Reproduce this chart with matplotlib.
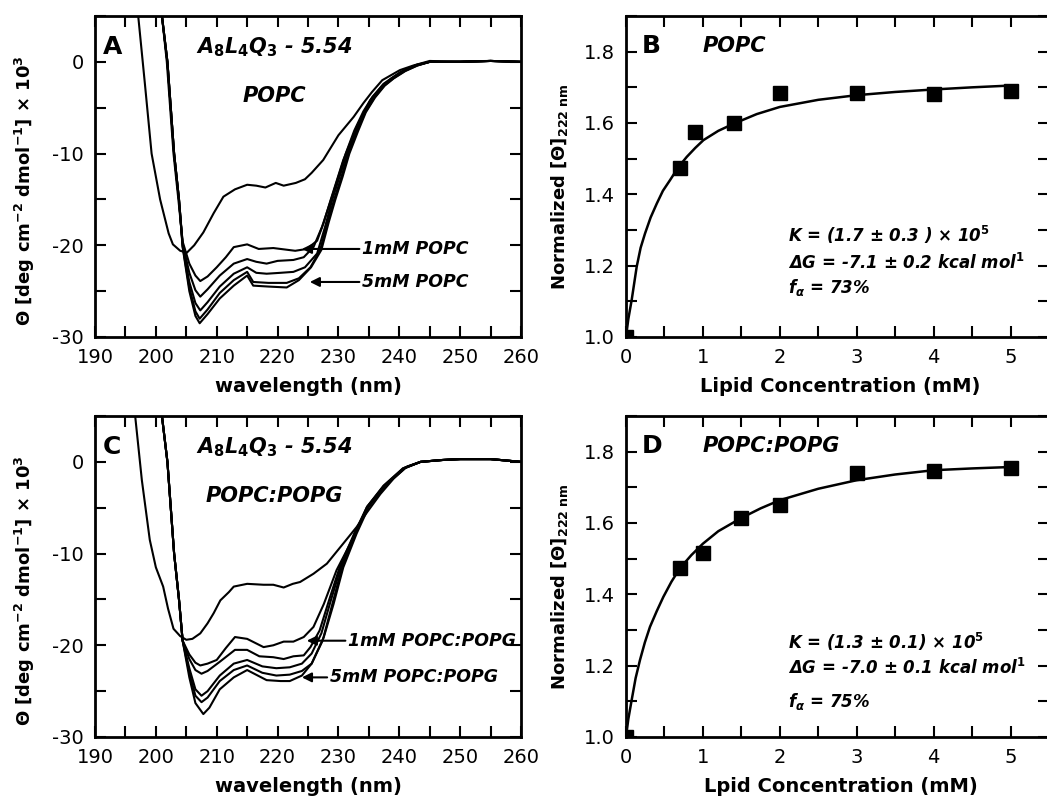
import numpy as np
import matplotlib
matplotlib.use("Agg")
import matplotlib.pyplot as plt
from matplotlib.ticker import MultipleLocator

plt.rcParams['font.family'] = ['DejaVu Sans']
plt.rcParams['axes.unicode_minus'] = False
plt.rcParams['mathtext.fontset'] = 'custom'
plt.rcParams['mathtext.rm'] = 'DejaVu Sans:bold'
plt.rcParams['mathtext.it'] = 'DejaVu Sans:italic:bold'
plt.rcParams['mathtext.bf'] = 'DejaVu Sans:bold'

# ---- panel A: CD spectra in POPC (buffer + 1..5 mM lipid)
a_buf_wl = [196.5, 197.1, 198.2, 199.3, 200.7, 202.1, 202.8, 204.0, 205.1, 206.3, 207.8, 209.5, 211.1, 213.0,
            215.0, 216.5, 218.0, 219.7, 221.0, 223.0, 224.5, 225.6, 227.5, 230.0, 232.5, 234.1, 235.5, 237.2,
            240.1, 242.3, 245.0, 250.0, 255.0, 260.0]
a_buf_th = [8, 5, -2.4, -10, -15, -18.7, -19.9, -20.6, -20.8, -20.0, -18.6, -16.5, -14.7, -13.9,
            -13.4, -13.5, -13.7, -13.2, -13.5, -13.2, -12.8, -12.1, -10.7, -8.0, -6.0, -4.5, -3.3, -2.0,
            -0.9, -0.4, 0.1, 0.0, 0.1, 0.0]

a1_wl = [200.6, 201.0, 201.8, 202.9, 203.7, 204.4, 205.5, 206.5, 207.3, 208.5, 210.0, 211.5, 212.8, 215.0,
         216.9, 219.3, 222.9, 224.8, 226.5, 227.6, 228.7, 230.8, 233.0, 235.2, 237.4, 240.2, 242.9, 245.0,
         250.0, 255.0, 260.0]
a1_th = [8, 5, 0, -10, -15, -19.6, -22.0, -23.3, -23.9, -23.4, -22.4, -21.3, -20.2, -19.9,
         -20.4, -20.3, -20.6, -20.4, -19.5, -17.5, -15.1, -10.7, -7.1, -4.2, -2.4, -1.1, -0.3, 0.0,
         0.0, 0.1, 0.0]

a2_wl = [200.6, 201.0, 201.9, 203.0, 203.8, 204.4, 205.5, 206.5, 207.3, 208.5, 210.5, 212.8, 215.0, 216.5,
         218.2, 220.0, 222.6, 224.3, 225.9, 227.3, 228.8, 230.0, 231.2, 232.6, 234.1, 235.6, 237.2, 238.7,
         240.6, 242.6, 245.0, 250.0, 255.0, 260.0]
a2_th = [8, 5, 0, -10, -15, -19.8, -23.0, -24.9, -25.6, -24.8, -23.3, -22.0, -21.5, -21.8,
         -22.0, -21.7, -21.6, -21.3, -20.2, -18.0, -15.0, -12.5, -10.0, -7.5, -5.4, -3.8, -2.6, -1.8,
         -1.0, -0.4, 0.0, 0.05, 0.1, 0.0]

a3_wl = [200.6, 201.0, 201.9, 203.0, 203.8, 204.4, 205.5, 206.5, 207.3, 208.5, 210.5, 212.8, 215.0, 216.5,
         218.2, 220.5, 222.6, 224.5, 226.5, 227.8, 229.0, 230.2, 231.4, 232.8, 234.2, 235.7, 237.3, 238.8,
         240.7, 242.7, 245.0, 250.0, 255.0, 260.0]
a3_th = [8, 5, 0, -10, -15, -20.0, -24.0, -26.3, -27.1, -26.2, -24.5, -23.1, -22.4, -23.0,
         -23.1, -23.0, -22.9, -22.4, -20.9, -18.0, -15.0, -12.5, -10.0, -7.6, -5.5, -3.9, -2.6, -1.8,
         -1.0, -0.4, 0.0, 0.0, 0.1, 0.0]

a4_wl = [200.6, 201.0, 201.9, 203.0, 203.8, 204.4, 205.5, 206.5, 207.2, 208.5, 210.5, 212.8, 215.0, 216.0,
         218.5, 221.5, 223.5, 225.4, 227.0, 228.2, 229.3, 230.5, 231.6, 233.0, 234.4, 235.9, 237.5, 239.0,
         240.9, 242.9, 245.0, 250.0, 255.0, 260.0]
a4_th = [8, 5, 0, -10, -15, -20.1, -24.6, -27.2, -28.0, -27.0, -25.2, -23.8, -22.9, -24.0,
         -24.1, -24.1, -23.6, -22.4, -20.5, -17.5, -15.0, -12.5, -10.0, -7.6, -5.5, -3.9, -2.6, -1.8,
         -1.0, -0.4, 0.0, 0.0, 0.1, 0.0]

a5_wl = [200.6, 201.0, 201.9, 203.0, 203.8, 204.4, 205.5, 206.5, 207.2, 208.5, 210.5, 212.8, 215.0, 216.0,
         218.5, 221.5, 223.5, 225.5, 227.2, 228.4, 229.5, 230.7, 231.8, 233.2, 234.5, 236.0, 237.6, 239.1,
         241.0, 243.0, 245.0, 250.0, 255.0, 260.0]
a5_th = [8, 5, 0, -10, -15, -20.2, -25.0, -27.7, -28.5, -27.5, -25.8, -24.4, -23.3, -24.4,
         -24.5, -24.6, -23.8, -22.4, -20.5, -17.5, -15.0, -12.5, -10.0, -7.6, -5.5, -3.9, -2.6, -1.8,
         -1.0, -0.4, 0.0, 0.0, 0.1, 0.0]

# ---- panel C: CD spectra in POPC:POPG
c_buf_wl = [196.0, 196.6, 197.7, 199.0, 200.0, 201.2, 202.0, 202.9, 204.0, 205.0, 206.0, 207.3, 208.5, 209.5,
            210.6, 212.0, 212.8, 215.0, 217.7, 219.3, 221.0, 222.5, 223.7, 225.9, 228.1, 230.8, 233.0, 234.7,
            236.9, 239.1, 241.3, 243.5, 247.0, 250.0, 255.0, 260.0]
c_buf_th = [8, 5, -2, -8.5, -11.5, -13.6, -16.0, -18.2, -19.0, -19.4, -19.3, -18.7, -17.6, -16.5,
            -15.1, -14.2, -13.6, -13.3, -13.4, -13.4, -13.7, -13.3, -13.1, -12.2, -11.1, -8.9, -7.1, -5.5,
            -3.5, -1.8, -0.5, 0.0, 0.2, 0.3, 0.3, 0.0]

c1_wl = [200.6, 201.0, 201.9, 203.0, 203.8, 204.4, 205.5, 206.5, 207.3, 208.5, 210.0, 211.5, 213.0, 215.0,
         216.5, 217.7, 219.3, 221.0, 222.6, 224.3, 225.9, 227.6, 229.7, 232.5, 234.7, 237.4, 240.7, 243.5,
         247.0, 250.0, 255.0, 260.0]
c1_th = [8, 5, 0, -10, -15, -19.5, -21.0, -21.9, -22.2, -22.0, -21.6, -20.3, -19.1, -19.3,
         -19.8, -20.2, -20.0, -19.6, -19.6, -19.1, -18.0, -15.5, -11.8, -8.2, -4.9, -2.7, -0.7, 0.0,
         0.2, 0.3, 0.3, 0.0]

c2_wl = [200.6, 201.0, 201.9, 203.0, 203.8, 204.4, 205.5, 206.5, 207.5, 208.5, 210.5, 213.0, 215.0, 217.0,
         219.3, 221.0, 222.6, 224.3, 225.4, 226.9, 228.5, 230.2, 232.6, 234.7, 237.4, 240.6, 243.5, 247.0,
         250.0, 255.0, 260.0]
c2_th = [8, 5, 0, -10, -15, -19.5, -21.5, -22.7, -23.1, -22.8, -21.8, -20.5, -20.5, -21.2,
         -21.3, -21.5, -21.2, -21.1, -20.2, -18.4, -15.0, -11.5, -7.8, -4.9, -2.6, -0.7, 0.0, 0.2,
         0.3, 0.3, 0.0]

c3_wl = [200.6, 201.0, 201.9, 203.0, 203.8, 204.4, 205.5, 206.5, 207.5, 208.5, 210.5, 212.8, 215.0, 217.5,
         219.8, 222.0, 224.0, 225.6, 227.2, 228.8, 230.4, 232.7, 234.8, 237.5, 240.7, 243.5, 247.0, 250.0,
         255.0, 260.0]
c3_th = [8, 5, 0, -10, -15, -19.5, -22.5, -24.8, -25.5, -25.0, -23.3, -22.0, -21.6, -22.3,
         -22.5, -22.4, -22.0, -20.9, -18.7, -15.0, -11.5, -7.8, -4.9, -2.6, -0.7, 0.0, 0.2, 0.3,
         0.3, 0.0]

c4_wl = [200.6, 201.0, 201.9, 203.0, 203.8, 204.4, 205.5, 206.5, 207.5, 208.5, 210.5, 212.8, 215.0, 217.5,
         219.8, 222.0, 224.0, 225.6, 227.4, 229.0, 230.6, 232.8, 234.9, 237.6, 240.8, 243.5, 247.0, 250.0,
         255.0, 260.0]
c4_th = [8, 5, 0, -10, -15, -19.5, -23.0, -25.5, -26.2, -25.7, -23.9, -22.7, -22.2, -23.0,
         -23.3, -23.2, -22.8, -22.0, -19.5, -15.5, -11.5, -7.8, -4.9, -2.6, -0.7, 0.0, 0.2, 0.3,
         0.3, 0.0]

c5_wl = [200.6, 201.0, 201.9, 203.0, 203.8, 204.4, 205.5, 206.5, 207.8, 208.8, 210.5, 212.8, 215.0, 218.2,
         220.5, 222.0, 224.0, 225.6, 227.6, 229.2, 230.8, 233.0, 235.0, 237.7, 240.9, 243.5, 247.0, 250.0,
         255.0, 260.0]
c5_th = [8, 5, 0, -10, -15, -19.5, -23.5, -26.3, -27.5, -26.8, -24.8, -23.5, -22.7, -23.8,
         -23.9, -23.9, -23.3, -22.0, -19.1, -15.5, -11.5, -7.8, -4.9, -2.6, -0.7, 0.0, 0.2, 0.3,
         0.3, 0.0]

# ---- panel B: binding isotherm, POPC
b_conc = [0.0, 0.7, 0.9, 1.4, 2.0, 3.0, 4.0, 5.0]
b_norm = [1.0, 1.473, 1.575, 1.601, 1.683, 1.683, 1.682, 1.690]
b_fit_x = [0.0, 0.03, 0.074, 0.139, 0.19, 0.247, 0.32, 0.40, 0.48, 0.573, 0.68, 0.79, 0.9, 1.007, 1.2,
           1.40, 1.7, 2.0, 2.5, 3.0, 3.5, 4.0, 4.5, 5.0]
b_fit_y = [1.0, 1.05, 1.104, 1.197, 1.250, 1.290, 1.335, 1.374, 1.410, 1.440, 1.476, 1.505, 1.530, 1.552,
           1.578, 1.598, 1.625, 1.645, 1.665, 1.678, 1.687, 1.694, 1.700, 1.705]

# ---- panel D: binding isotherm, POPC:POPG
d_conc = [0.0, 0.7, 1.0, 1.5, 2.0, 3.0, 4.0, 5.0]
d_norm = [1.0, 1.473, 1.516, 1.615, 1.650, 1.740, 1.746, 1.754]
d_fit_x = [0.0, 0.03, 0.074, 0.125, 0.182, 0.245, 0.312, 0.40, 0.486, 0.59, 0.70, 0.85, 1.0, 1.2, 1.49,
           1.75, 2.0, 2.5, 3.0, 3.5, 4.0, 4.5, 5.0]
d_fit_y = [1.0, 1.05, 1.104, 1.165, 1.216, 1.265, 1.309, 1.353, 1.393, 1.435, 1.473, 1.510, 1.542, 1.577,
           1.613, 1.641, 1.664, 1.696, 1.720, 1.736, 1.748, 1.753, 1.757]

W, H = 1047, 797
fig = plt.figure(figsize=(W / 100, H / 100), dpi=100)


def box(l, t, r, b):
    return [l / W, 1 - b / H, (r - l) / W, (b - t) / H]


def style(ax):
    ax.tick_params(which='both', direction='in', top=True, right=True, width=1.5, labelsize=14,
                   pad=8)
    ax.tick_params(which='major', length=8)
    ax.tick_params(which='minor', length=8)
    for s in ax.spines.values():
        s.set_linewidth(2)


def cd_panel(ax, curves, letter, lipid, lab1, lab5, pos1, pos5, arr1, arr5):
    for wl, th in curves:
        ax.plot(wl, th, color='black', lw=1.5)
    ax.set_xlim(190, 260)
    ax.set_ylim(-30, 5)
    ax.xaxis.set_major_locator(MultipleLocator(10))
    ax.xaxis.set_minor_locator(MultipleLocator(5))
    ax.yaxis.set_major_locator(MultipleLocator(10))
    ax.yaxis.set_minor_locator(MultipleLocator(5))
    style(ax)
    ax.set_xlabel('wavelength (nm)', fontsize=14, fontweight='bold')
    ax.xaxis.set_label_coords(0.5, -0.125)
    ax.set_ylabel(r'Θ [deg cm$^{-2}$ dmol$^{-1}$] × 10$^{3}$', fontsize=13, fontweight='bold')
    ax.yaxis.set_label_coords(-0.137, 0.456)
    ax.text(191.3, 1.6, letter, fontsize=18, fontweight='bold', va='center')
    ax.text(206.6, 1.6, r'$A_8L_4Q_3$ - 5.54', fontsize=15, fontweight='bold', fontstyle='italic',
            va='center')
    ax.text(219.5, -3.7, lipid, fontsize=15, fontweight='bold', fontstyle='italic', va='center',
            ha='center')
    for lab, pos, arr in [(lab1, pos1, arr1), (lab5, pos5, arr5)]:
        ax.annotate(lab, xy=arr, xytext=pos, fontsize=12.5, fontweight='bold',
                    fontstyle='italic', va='center',
                    arrowprops=dict(arrowstyle='-|>', color='black', lw=1.5, shrinkA=0, shrinkB=0,
                                    mutation_scale=14))


def bind_panel(ax, cx, cy, fx, fy, letter, lipid, xlabel, lines, ys):
    ax.plot(fx, fy, color='black', lw=1.8)
    ax.plot(cx, cy, 's', color='black', ms=10)
    ax.set_xlim(0, 5.5)
    ax.set_ylim(1.0, 1.9)
    ax.set_xticks([0, 1, 2, 3, 4, 5])
    ax.xaxis.set_minor_locator(MultipleLocator(0.5))
    ax.set_yticks([1.0, 1.2, 1.4, 1.6, 1.8])
    ax.yaxis.set_minor_locator(MultipleLocator(0.1))
    style(ax)
    ax.set_ylabel(r'Normalized [Θ]$_{\mathrm{222\ nm}}$', fontsize=13, fontweight='bold')
    ax.yaxis.set_label_coords(-0.133, 0.47)
    ax.set_xlabel(xlabel, fontsize=14, fontweight='bold')
    ax.xaxis.set_label_coords(0.507, -0.125)
    ax.text(0.2, 1.815, letter, fontsize=18, fontweight='bold', va='center')
    ax.text(1.0, 1.815, lipid, fontsize=15, fontweight='bold', fontstyle='italic', va='center')
    for s, y in zip(lines, ys):
        ax.text(2.1, y, s, fontsize=12, fontweight='bold', fontstyle='italic', va='center')


axA = fig.add_axes(box(95, 16, 521, 337))
cd_panel(axA, [(a_buf_wl, a_buf_th), (a1_wl, a1_th), (a2_wl, a2_th), (a3_wl, a3_th), (a4_wl, a4_th),
               (a5_wl, a5_th)],
         'A', 'POPC', '1mM POPC', '5mM POPC', (233.9, -20.4), (233.9, -24.0),
         (224.0, -20.4), (225.3, -24.0))

axC = fig.add_axes(box(95, 416, 521, 737))
cd_panel(axC, [(c_buf_wl, c_buf_th), (c1_wl, c1_th), (c2_wl, c2_th), (c3_wl, c3_th), (c4_wl, c4_th),
               (c5_wl, c5_th)],
         'C', 'POPC:POPG', '1mM POPC:POPG', '5mM POPC:POPG', (231.6, -19.5), (228.6, -23.5),
         (224.8, -19.5), (224.0, -23.5))

axB = fig.add_axes(box(626, 16, 1049, 337))
bind_panel(axB, b_conc, b_norm, b_fit_x, b_fit_y, 'B', 'POPC', 'Lipid Concentration (mM)',
           [r'K = (1.7 ± 0.3 ) × 10$^5$', r'ΔG = -7.1 ± 0.2 kcal mol$^1$', r'f$_α$ = 73%'],
           [1.286, 1.207, 1.14])

axD = fig.add_axes(box(626, 416, 1049, 737))
bind_panel(axD, d_conc, d_norm, d_fit_x, d_fit_y, 'D', 'POPC:POPG', 'Lpid Concentration (mM)',
           [r'K = (1.3 ± 0.1) × 10$^5$', r'ΔG = -7.0 ± 0.1 kcal mol$^1$', r'f$_α$ = 75%'],
           [1.267, 1.193, 1.099])

fig.savefig('out.png', dpi=100)
